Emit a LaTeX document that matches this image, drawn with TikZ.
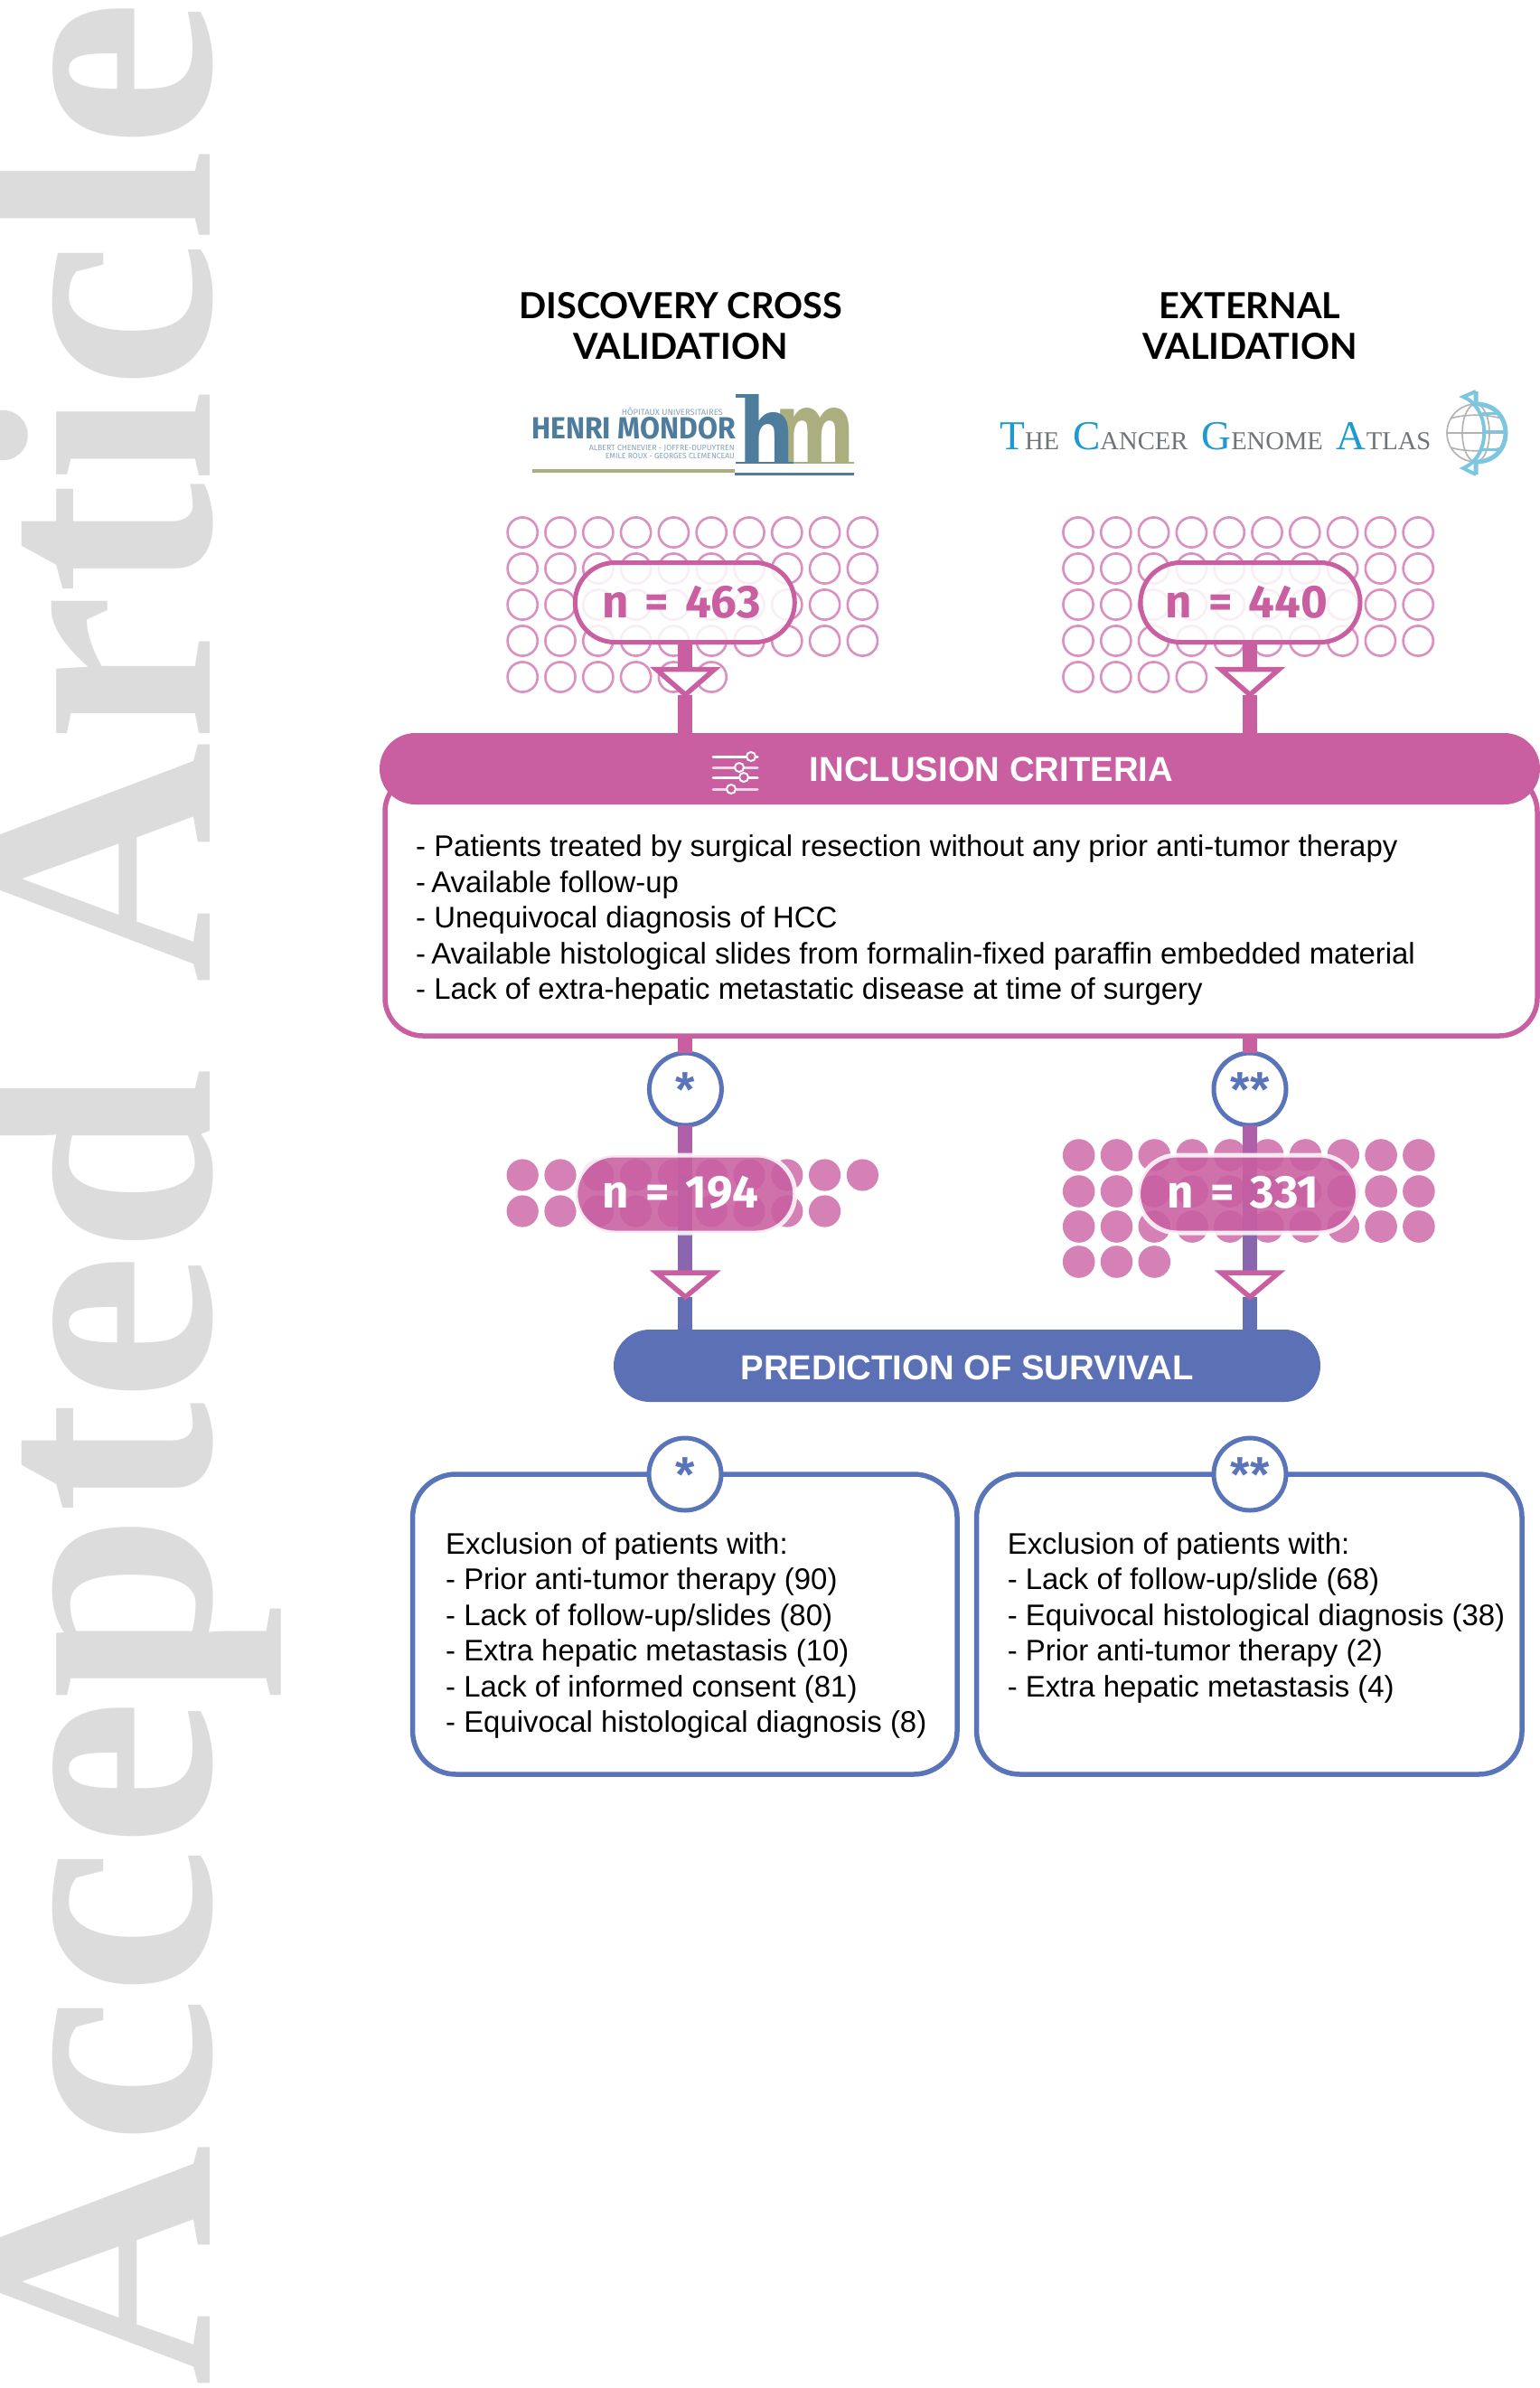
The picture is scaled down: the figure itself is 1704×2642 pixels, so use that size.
\documentclass[tikz,border=0pt]{standalone}
\usepackage{fontspec}
\usetikzlibrary{shapes.misc,shapes.geometric}
\setmainfont{Liberation Sans}
\newfontfamily\latof{Lato}
\newfontfamily\firaf{Fira Sans}
\newfontfamily\wmf{Liberation Serif}
\newfontfamily\djvf{DejaVu Sans}
\newcommand{\fsz}[1]{\fontsize{#1}{#1}\selectfont}
\newcommand{\nsp}{\hspace{18pt}}
\definecolor{pinkm}{HTML}{C95FA1}
\definecolor{pinkc}{HTML}{DC90C2}
\definecolor{pinkd}{HTML}{D681B5}
\definecolor{bluem}{HTML}{5B70B5}
\definecolor{bluec}{HTML}{5A74BA}
\definecolor{wmgrey}{HTML}{DCDCDC}
\definecolor{hmblue}{HTML}{4E7C9C}
\definecolor{hmolive}{HTML}{ABAE7E}
\definecolor{tcblue}{HTML}{1C9BD0}
\definecolor{tcgrey}{HTML}{6F7478}
\definecolor{glblue}{HTML}{7CC6E0}
\definecolor{stemA}{HTML}{B060A8}
\definecolor{stemB}{HTML}{8A66AE}
\definecolor{stemC}{HTML}{6470B5}
\tikzset{
  ring/.style={draw=pinkc,line width=2.6pt,fill=none},
  dotf/.style={fill=pinkd},
  stem/.style={line width=16pt,draw=pinkm},
  funnel/.style={draw=pinkm,line width=5.5pt,fill=white,line join=miter},
  openpill/.style={rounded rectangle,draw=pinkm,line width=5pt,fill=white,fill opacity=.85,draw opacity=1,minimum width=243pt,minimum height=88pt,inner sep=0pt,outer sep=0pt},
  solidpill/.style={rounded rectangle,draw=white,draw opacity=.85,line width=5pt,fill=pinkm,fill opacity=.88,minimum width=243pt,minimum height=86pt,inner sep=0pt,outer sep=0pt},
  ntext/.style={anchor=base,inner sep=0pt,font=\firaf\bfseries\fsz{51}},
  title/.style={anchor=base,inner sep=0pt,font=\latof\bfseries\fsz{39.7},text=black},
  barlabel/.style={anchor=center,inner sep=0pt,text=white,font=\bfseries\fsz{38.3}},
  body/.style={anchor=north west,inner sep=0pt,align=left,text=black,font=\fsz{32.9}},
  starc/.style={circle,draw=bluec,line width=5pt,fill=white,minimum size=80pt,inner sep=0pt,outer sep=0pt,text=bluec,font=\bfseries\fsz{55}},
  exbox/.style={rectangle,draw=bluec,line width=5.5pt,rounded corners=48pt,fill=white,minimum height=332pt,inner sep=0pt,outer sep=0pt},
  slide/.style={line width=3pt,draw=white,line cap=round},
  knob/.style={draw=white,line width=2pt,fill=pinkm},
  logosmall/.style={anchor=base east,inner sep=0pt,text=hmblue!70,font=\firaf}
}
\begin{document}
\begin{tikzpicture}[x=1pt,y=-1pt]
\useasboundingbox[fill=white] (0,0) rectangle (1704,2642);

% watermark
\node[rotate=90,anchor=base east,inner sep=0pt,text=wmgrey,font=\wmf\bfseries\fsz{370}] (wm) at (232,0) {Accepted Article};

% titles
\node[title] (t1a) at (753,352) {DISCOVERY CROSS};
\node[title] (t1b) at (753,397.5) {VALIDATION};
\node[title] (t2a) at (1383,352) {EXTERNAL};
\node[title] (t2b) at (1383,397.5) {VALIDATION};

% Henri Mondor logo
\node[logosmall] (hm0) at (800,459) {\resizebox{112pt}{!}{H\^OPITAUX UNIVERSITAIRES}};
\node[anchor=base west,inner sep=0pt,text=hmblue,font=\firaf\bfseries] (hm1) at (588,485) {\resizebox{226pt}{24pt}{HENRI MONDOR}};
\node[logosmall] (hm2) at (813,498) {\resizebox{161pt}{!}{ALBERT CHENEVIER - JOFFRE-DUPUYTREN}};
\node[logosmall] (hm3) at (813,507) {\resizebox{143pt}{!}{EMILE ROUX - GEORGES CLEMENCEAU}};
\fill[hmolive] (589,519) rectangle (813,522.5);
\fill[hmblue] (813,522.5) rectangle (945,526);
\node[anchor=base west,inner sep=0pt,text=hmolive,font=\djvf\bfseries] (hmm) at (856,512) {\resizebox{90pt}{61pt}{m}};
\node[anchor=base west,inner sep=0pt,text=hmblue,font=\djvf\bfseries] (hmh) at (817,512) {\resizebox{62pt}{76pt}{h}};
\fill[hmblue] (814,436) rectangle (830,440);
\fill[hmblue] (814,510.5) rectangle (878,512.5);
\fill[hmolive] (878,510.5) rectangle (945,512.5);

% TCGA logo
\node[anchor=base west,inner sep=0pt,font=\wmf] (tcga) at (1106,497) {%
{\color{tcblue}\fsz{45.5}T}{\color{tcgrey}\fsz{28.6}HE}\hspace{15pt}%
{\color{tcblue}\fsz{45.5}C}{\color{tcgrey}\fsz{28.6}ANCER}\hspace{15pt}%
{\color{tcblue}\fsz{45.5}G}{\color{tcgrey}\fsz{28.6}ENOME}\hspace{15pt}%
{\color{tcblue}\fsz{45.5}A}{\color{tcgrey}\fsz{28.6}TLAS}};
% globe
\draw[line width=1.6pt,draw=black!30] (1633,479) circle (32);
\draw[line width=1.6pt,draw=black!30] (1633,479) ellipse (15 and 32);
\draw[line width=1.6pt,draw=black!30] (1601,479) -- (1665,479);
\draw[line width=1.6pt,draw=black!30] (1605,463) .. controls (1620,458) and (1646,458) .. (1661,463);
\draw[line width=1.6pt,draw=black!30] (1605,495) .. controls (1620,500) and (1646,500) .. (1661,495);
\draw[line width=5pt,draw=glblue] (1633,433) -- (1633,447) .. controls (1677,447) and (1677,511) .. (1633,511) -- (1633,525);
\draw[line width=4pt,draw=glblue] (1633,433) -- (1619,439) .. controls (1650,452) and (1650,505) .. (1619,518) -- (1633,525);
\draw[line width=3pt,draw=glblue] (1640,457) -- (1658,457) (1642,477) -- (1666,477) (1640,497) -- (1658,497);

% open circles, left and right
\foreach \y in {589,629,669,709}
  \foreach \i in {0,...,9} {
    \draw[ring] (578.2+41.8*\i,\y) circle (16.6);
    \draw[ring] (1193+41.8*\i,\y) circle (16.6);
  }
\foreach \i in {0,...,5} \draw[ring] (578.2+41.8*\i,749) circle (16.6);
\foreach \i in {0,...,3} \draw[ring] (1193+41.8*\i,749) circle (16.6);

% filled dots, left
\foreach \i in {0,...,9} \fill[dotf] (578.2+41.8*\i,1300) circle (17.6);
\foreach \i in {0,...,8} \fill[dotf] (578.2+41.8*\i,1340) circle (17.6);
% filled dots, right
\foreach \y in {1278,1318,1357}
  \foreach \i in {0,...,9} \fill[dotf] (1193.7+41.8*\i,\y) circle (17.8);
\foreach \i in {0,...,2} \fill[dotf] (1193.7+41.8*\i,1396) circle (17.8);

% inclusion box and header
\node[rectangle,draw=pinkm,line width=5.5pt,rounded corners=42pt,fill=white,minimum width=1275pt,minimum height=290pt,inner sep=0pt,outer sep=0pt] (incbox) at (1063.5,1001) {};
\node[rounded rectangle,fill=pinkm,minimum width=1284pt,minimum height=79pt,inner sep=0pt,outer sep=0pt] (inchead) at (1062,850.5) {};
\node[barlabel] (inctitle) at (1097,851) {INCLUSION CRITERIA};
\node[body] (inctext) at (460,923.5) {- Patients treated by surgical resection without any prior anti-tumor therapy\\[6.6pt]-\kern-3pt{} Available follow-up\\[6.6pt]- Unequivocal diagnosis of HCC\\[6.6pt]-\kern-3pt{} Available histological slides from formalin-fixed paraffin embedded material\\[6.6pt]- Lack of extra-hepatic metastatic disease at time of surgery};

% slider icon
\draw[slide] (789,837) -- (838,837);
\draw[slide,opacity=.75] (789,849) -- (838,849);
\draw[slide] (789,860) -- (838,860);
\draw[slide,opacity=.75] (789,873) -- (838,873);
\draw[knob] (831,837) circle (5);
\draw[knob] (818,849) circle (5);
\draw[knob] (823,860) circle (5);
\draw[knob] (809,873) circle (5);

% prediction bar
\node[rounded rectangle,fill=bluem,minimum width=782pt,minimum height=80pt,inner sep=0pt,outer sep=0pt] (pred) at (1070,1511) {};
\node[barlabel] (predtitle) at (1070,1513) {PREDICTION OF SURVIVAL};

% anchors
\coordinate (a1) at (758.4,740.7); \coordinate (a2) at (758.4,768.6);
\coordinate (b1) at (1383,740.7);  \coordinate (b2) at (1383,768.6);
\coordinate (c1) at (758.4,1406);  \coordinate (c2) at (758.4,1435);
\coordinate (d1) at (1383,1406);   \coordinate (d2) at (1383,1435);

% star circles on the lines
\node[starc] (s1) at (758.4,1205) {\raisebox{-.72em}{\smash{*}}};
\node[starc] (s2) at (1383,1205) {\raisebox{-.72em}{\smash{**}}};

% connectors
\draw[stem] (a1 |- 713,713) -- (a1);
\draw[stem] (a2) -- (a2 |- inchead.north);
\draw[stem] (b1 |- 713,713) -- (b1);
\draw[stem] (b2) -- (b2 |- inchead.north);
\draw[stem] (s1.north |- incbox.south) -- (s1.north);
\draw[stem] (s2.north |- incbox.south) -- (s2.north);
\draw[stem,draw=stemA] (s1.south) -- (c1 |- 0,1300);
\draw[stem,draw=stemA] (s2.south) -- (d1 |- 0,1300);
\draw[stem,draw=stemB] (c1 |- 0,1300) -- (c1);
\draw[stem,draw=stemB] (d1 |- 0,1300) -- (d1);
\draw[stem,draw=stemC] (c2) -- (c2 |- pred.north);
\draw[stem,draw=stemC] (d2) -- (d2 |- pred.north);

% funnels
\draw[funnel] (726.4,740.7) -- (790.4,740.7) -- (a2) -- cycle;
\draw[funnel] (1351,740.7) -- (1415,740.7) -- (b2) -- cycle;
\draw[funnel] (726.4,1408) -- (790.4,1408) -- (c2) -- cycle;
\draw[funnel] (1351,1408) -- (1415,1408) -- (d2) -- cycle;

% count pills
\node[openpill] (p463) at (757.8,666.5) {};
\node[openpill] (p440) at (1383.5,666.5) {};
\node[solidpill] (p194) at (758.3,1321) {};
\node[solidpill] (p331) at (1381,1321) {};
\node[ntext,text=pinkm] (n463) at (754,683) {n\nsp=\nsp463};
\node[ntext,text=pinkm] (n440) at (1379.5,683) {n\nsp=\nsp440};
\node[ntext,text=white] (n194) at (753,1336) {n\nsp=\nsp194};
\node[ntext,text=white] (n331) at (1375.5,1336) {n\nsp=\nsp331};

% exclusion boxes
\node[exbox,minimum width=602.5pt] (ex1) at (757.8,1797) {};
\node[exbox,minimum width=603.5pt] (ex2) at (1382.3,1797) {};
\node[starc] (s3) at (758,1631) {\raisebox{-.72em}{\smash{*}}};
\node[starc] (s4) at (1383,1631) {\raisebox{-.72em}{\smash{**}}};
\node[body] (ex1t) at (493,1695) {Exclusion of patients with:\\[6.6pt]- Prior anti-tumor therapy (90)\\[6.6pt]- Lack of follow-up/slides (80)\\[6.6pt]- Extra hepatic metastasis (10)\\[6.6pt]- Lack of informed consent (81)\\[6.6pt]- Equivocal histological diagnosis (8)};
\node[body] (ex2t) at (1114.6,1695) {Exclusion of patients with:\\[6.6pt]- Lack of follow-up/slide (68)\\[6.6pt]- Equivocal histological diagnosis (38)\\[6.6pt]- Prior anti-tumor therapy (2)\\[6.6pt]- Extra hepatic metastasis (4)};
\end{tikzpicture}
\end{document}
